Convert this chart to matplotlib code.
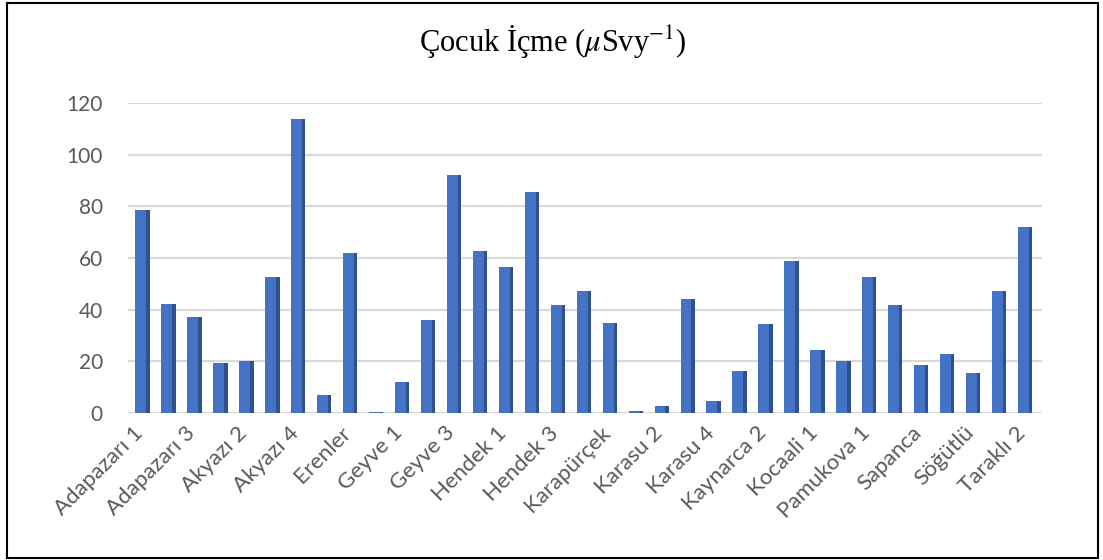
import matplotlib.pyplot as plt
from matplotlib.patches import Rectangle
from matplotlib.transforms import ScaledTranslation
import numpy as np

# Veri (okunan degerler)
istasyonlar = ["Adapazarı 1", "Adapazarı 2", "Adapazarı 3", "Akyazı 1", "Akyazı 2",
               "Akyazı 3", "Akyazı 4", "Arifiye", "Erenler", "Ferizli",
               "Geyve 1", "Geyve 2", "Geyve 3", "Geyve 4", "Hendek 1",
               "Hendek 2", "Hendek 3", "Hendek 4", "Karapürçek", "Karasu 1",
               "Karasu 2", "Karasu 3", "Karasu 4", "Kaynarca 1", "Kaynarca 2",
               "Kaynarca 3", "Kocaali 1", "Kocaali 2", "Pamukova 1", "Pamukova 2",
               "Sapanca", "Serdivan", "Söğütlü", "Taraklı 1", "Taraklı 2"]
degerler = [78.4, 42.2, 37.0, 19.5, 20.3, 52.8, 113.7, 6.9, 61.9, 0.5,
            12.0, 36.0, 92.3, 62.9, 56.7, 85.4, 41.8, 47.3, 35.0, 0.8,
            2.6, 44.2, 4.7, 16.3, 34.4, 58.9, 24.3, 20.2, 52.5, 41.8,
            18.5, 22.8, 15.3, 47.3, 72.0]
y_ticks = [0, 20, 40, 60, 80, 100, 120]

plt.rcParams['font.family'] = ['Lato', 'DejaVu Sans']
plt.rcParams['mathtext.fontset'] = 'stix'

fig = plt.figure(figsize=(11.03, 5.6), dpi=100)
ax = fig.add_axes([0.116, 0.2625, 0.829, 0.5535])

x = np.arange(len(degerler))
genislik = 0.42
yan = 0.13

# yan yuz (3B gorunumu icin koyu serit)
ax.bar(x + genislik / 2, degerler, width=yan, align='edge',
       color='#2F528F', zorder=2, clip_on=False)
ax.bar(x, degerler, width=genislik, color='#4472C4', zorder=3, clip_on=False)

ax.set_xlim(-0.5, len(degerler) - 0.27)
ax.set_ylim(0, 120)
ax.set_yticks(y_ticks)
ax.set_yticklabels([str(v) for v in y_ticks], fontsize=15, color='#595959')
ax.yaxis.grid(True, color='#D9D9D9', linewidth=1.6, zorder=0)
ax.set_axisbelow(True)

ax.set_xticks(x[::2])
ax.set_xticklabels(istasyonlar[::2], rotation=45, ha='right',
                   rotation_mode='anchor', fontsize=16, color='#595959')
ax.tick_params(axis='both', length=0)
ax.tick_params(axis='y', pad=18)
ax.tick_params(axis='x', pad=7)
kaydir = ScaledTranslation(-8 / 100, 0, fig.dpi_scale_trans)
for lbl in ax.get_xticklabels():
    lbl.set_transform(lbl.get_transform() + kaydir)

for s in ax.spines.values():
    s.set_visible(False)

fig.text(0.5015, 0.925, r'Çocuk İçme ($\mu$Svy$^{-1}$)', ha='center', va='center',
         fontsize=22, family=['Liberation Serif', 'DejaVu Serif'], color='black')

# cerceve
fig.patches.append(Rectangle((0.0063, 0.0036), 0.9892, 0.9911, transform=fig.transFigure,
                             fill=False, edgecolor='black', linewidth=1.5))

fig.savefig("out.png", dpi=100)
